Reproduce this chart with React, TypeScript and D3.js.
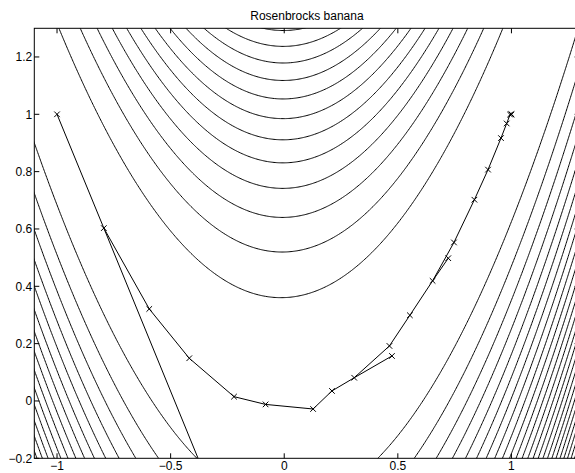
import React, { useMemo } from 'react';
import * as d3 from 'd3';

// axis limits and ticks
const xDomain = [-1.1, 1.3];
const yDomain = [-0.2, 1.3];
const xTicks = [-1, -0.5, 0, 0.5, 1];
const yTicks = [-0.2, 0, 0.2, 0.4, 0.6, 0.8, 1, 1.2];

// contour levels of f(x,y) = 100(y - x^2)^2 + (1 - x)^2
const levels = [14, 28, 42, 56, 70, 84, 98, 112, 126, 140, 154, 168, 182, 196, 210,
  224, 238, 252, 266, 280, 294, 308, 322, 336, 350];

// optimizer iterates
const iterX = [-1, -0.794, -0.594, -0.418, -0.221, -0.082, 0.127, 0.21, 0.308, 0.463,
  0.553, 0.653, 0.747, 0.837, 0.897, 0.954, 0.979, 0.994, 1, 1];
const iterY = [1, 0.603, 0.321, 0.149, 0.015, -0.012, -0.028, 0.035, 0.081, 0.192,
  0.299, 0.419, 0.553, 0.702, 0.807, 0.917, 0.968, 0.999, 1, 1];

// rejected trial steps (start iterate index -> trial point)
const trialFrom = [1, 8, 11];
const trialX = [-0.25, 0.474, 0.722];
const trialY = [-0.45, 0.157, 0.498];

const W = 575;
const H = 473;
const margin = { left: 34.3, top: 28.3 };
const plotW = 545.3;
const plotH = 430;

const rosen = (x: number, y: number) => 100 * (y - x * x) ** 2 + (1 - x) ** 2;

export default function App() {
  const x = d3.scaleLinear().domain(xDomain).range([margin.left, margin.left + plotW]);
  const y = d3.scaleLinear().domain(yDomain).range([margin.top + plotH, margin.top]);

  const contourPaths = useMemo(() => {
    const step = 0.005;
    const gx0 = -1.15, gy0 = -0.25;
    const nx = 501, ny = 321;
    const values = new Float64Array(nx * ny);
    for (let j = 0; j < ny; j++) {
      for (let i = 0; i < nx; i++) {
        values[j * nx + i] = rosen(gx0 + i * step, gy0 + j * step);
      }
    }
    const polys = d3.contours().size([nx, ny]).thresholds(levels)(Array.from(values));
    const proj = d3.geoTransform({
      point(px: number, py: number) {
        this.stream.point(x(gx0 + (px - 0.5) * step), y(gy0 + (py - 0.5) * step));
      },
    });
    const path = d3.geoPath(proj);
    return polys.map((p) => path(p as any) || '');
  }, []);

  const pts = iterX.map((v, i) => [x(v), y(iterY[i])] as [number, number]);
  const line = d3.line();
  const trials = trialFrom.map((k, i) => [pts[k], [x(trialX[i]), y(trialY[i])]] as [number, number][]);
  const markers = [...pts, ...trials.map((t) => t[1])];
  const m = 2.8;
  const tick = 5;
  const font = "'Liberation Sans', Arial, Helvetica, sans-serif";
  const fmt = (v: number) => (v < 0 ? '\u2212' + String(-v) : String(v));
  const x0 = margin.left, x1 = margin.left + plotW, y0 = margin.top, y1 = margin.top + plotH;

  return (
    <svg width={W} height={H} style={{ position: 'absolute', left: 0, top: 0, background: '#fff' }}>
      <defs>
        <clipPath id="plot">
          <rect x={x0} y={y0} width={plotW} height={plotH} />
        </clipPath>
      </defs>
      <rect width={W} height={H} fill="#fff" />
      <g clipPath="url(#plot)" fill="none" stroke="#000" strokeWidth={1}>
        {contourPaths.map((d, i) => <path key={i} d={d} />)}
        <path d={line(pts) || ''} />
        {trials.map((t, i) => <path key={'t' + i} d={line(t) || ''} />)}
        {markers.map(([px, py], i) => (
          <path key={'m' + i} d={`M${px - m},${py - m}L${px + m},${py + m}M${px - m},${py + m}L${px + m},${py - m}`} />
        ))}
      </g>
      <g stroke="#000" strokeWidth={1} fill="none">
        <rect x={x0} y={y0} width={plotW} height={plotH} />
        {xTicks.map((t) => (
          <g key={'xt' + t}>
            <line x1={x(t)} x2={x(t)} y1={y1} y2={y1 - tick} />
            <line x1={x(t)} x2={x(t)} y1={y0} y2={y0 + tick} />
          </g>
        ))}
        {yTicks.map((t) => (
          <g key={'yt' + t}>
            <line x1={x0} x2={x0 + tick} y1={y(t)} y2={y(t)} />
            <line x1={x1} x2={x1 - tick} y1={y(t)} y2={y(t)} />
          </g>
        ))}
      </g>
      <g fontFamily={font} fontSize={12} fill="#000">
        {xTicks.map((t) => (
          <text key={'xl' + t} x={x(t)} y={470} textAnchor="middle">{fmt(t)}</text>
        ))}
        {yTicks.map((t) => (
          <text key={'yl' + t} x={x0 - 2} y={y(t)} dy="0.35em" textAnchor="end">{fmt(t)}</text>
        ))}
        <text x={(x0 + x1) / 2} y={20} textAnchor="middle">Rosenbrocks banana</text>
      </g>
    </svg>
  );
}
